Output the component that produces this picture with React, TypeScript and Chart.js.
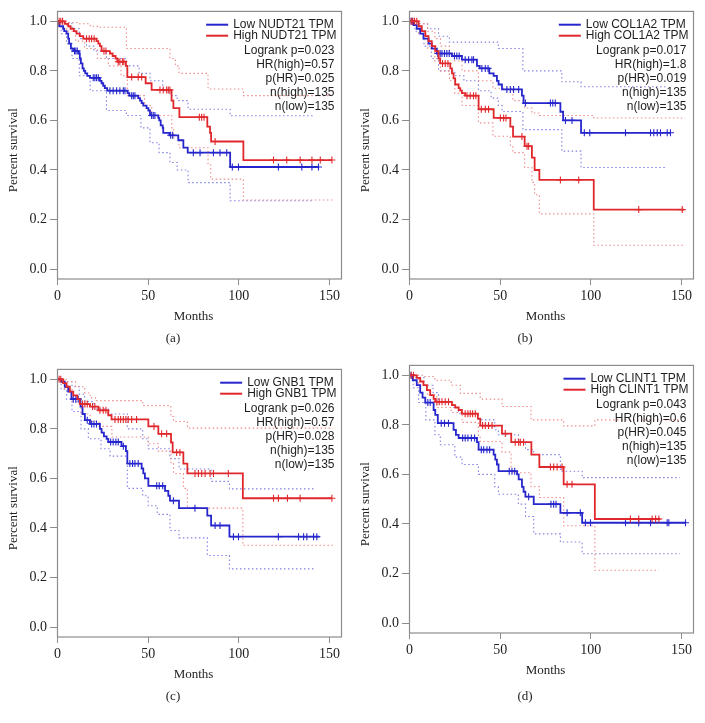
import { useEffect, useRef } from "react";
import { Chart, registerables } from "chart.js";

Chart.register(...registerables);

// ---------- shared tick labels ----------
const X_TICKS = [0, 50, 100, 150];
const Y_TICKS = [0, 0.2, 0.4, 0.6, 0.8, 1.0];

// ---------- (a) NUDT21 ----------
const aLowT = [0, 0.9, 3.1, 3.7, 5.0, 5.9, 6.4, 7.4, 8.7, 11.8, 12.3, 12.9, 13.8, 14.5, 15.3, 16.4, 17.9, 23.4, 24.3, 25.2, 26.1, 27.4, 38.7, 39.6, 44.5, 45.5, 46.4, 47.3, 49.1, 50.1, 51.0, 55.6, 56.1, 56.9, 58.0, 58.3, 61.7, 66.6, 69.4, 71.8, 95.2, 143.9];
const aLowS = [1, 0.98, 0.97, 0.96, 0.95, 0.93, 0.91, 0.89, 0.88, 0.87, 0.85, 0.83, 0.81, 0.8, 0.79, 0.78, 0.772, 0.76, 0.75, 0.74, 0.73, 0.72, 0.71, 0.7, 0.69, 0.68, 0.67, 0.66, 0.65, 0.64, 0.62, 0.61, 0.6, 0.58, 0.57, 0.55, 0.54, 0.52, 0.49, 0.47, 0.412, 0.412];
const aLowCens = [9.4, 10.1, 10.9, 19.7, 20.6, 21.5, 22.5, 28.9, 30.7, 32.6, 34.4, 36.3, 37.2, 40.9, 41.8, 42.7, 51.9, 52.8, 53.7, 62.4, 63.5, 74.9, 78.6, 86.0, 89.6, 93.3, 96.4, 99.8, 121.8, 134.7, 140.3, 143.9];
const aHighT = [0, 4.0, 5.9, 7.2, 9.0, 10.5, 12.3, 14.2, 21.5, 22.5, 23.4, 24.3, 28.9, 30.4, 32.0, 33.0, 37.7, 38.5, 48.6, 51.9, 62.9, 63.9, 67.2, 82.6, 84.1, 84.7, 102.5, 151.3];
const aHighS = [1, 0.99, 0.98, 0.97, 0.96, 0.95, 0.94, 0.93, 0.92, 0.91, 0.9, 0.88, 0.87, 0.86, 0.85, 0.837, 0.82, 0.775, 0.75, 0.723, 0.68, 0.65, 0.613, 0.575, 0.55, 0.515, 0.44, 0.44];
const aHighCens = [0.9, 1.8, 2.8, 16.0, 17.5, 18.8, 20.2, 25.6, 26.7, 33.5, 34.4, 35.9, 36.6, 40.9, 44.5, 46.4, 56.5, 58.3, 60.2, 61.1, 62.0, 78.2, 79.5, 80.8, 86.9, 119.1, 126.4, 133.8, 140.3, 144.9, 151.3];
const aLowUpper = [[0, 1], [3, 0.995], [8, 0.97], [12, 0.93], [16, 0.9], [20, 0.88], [27, 0.85], [38, 0.82], [45, 0.79], [51, 0.76], [58, 0.72], [62, 0.7], [66, 0.68], [72, 0.645], [95.2, 0.619], [141, 0.619]];
const aLowLower = [[0, 1], [2, 0.95], [5, 0.91], [8, 0.85], [12, 0.78], [18, 0.72], [27, 0.64], [38, 0.62], [46, 0.57], [51, 0.51], [56, 0.47], [62, 0.43], [66, 0.4], [72, 0.349], [95.2, 0.276], [141, 0.276]];
const aHighUpper = [[0, 1], [6, 0.995], [12, 0.99], [18, 0.98], [22, 0.976], [38, 0.89], [62, 0.85], [65, 0.82], [67, 0.79], [83, 0.727], [102.5, 0.7], [151, 0.7]];
const aHighLower = [[0, 1], [5, 0.96], [10, 0.92], [15, 0.89], [22, 0.85], [28, 0.82], [35, 0.78], [38.5, 0.7], [48, 0.66], [52, 0.62], [63, 0.57], [64, 0.53], [67, 0.49], [83, 0.42], [84.5, 0.363], [102.5, 0.279], [152, 0.279]];
const aStats = ["Logrank p=0.023", "HR(high)=0.57", "p(HR)=0.025", "n(high)=135", "n(low)=135"];

// ---------- (b) COL1A2 ----------
const bLowT = [0, 2.2, 4.0, 5.9, 7.7, 10.5, 12.3, 15.1, 23.4, 28.9, 37.2, 38.7, 44.0, 46.4, 48.2, 49.1, 51.0, 62.0, 62.9, 83.2, 84.7, 94.6, 143.9];
const bLowS = [1, 0.985, 0.97, 0.95, 0.93, 0.91, 0.89, 0.87, 0.86, 0.845, 0.82, 0.81, 0.79, 0.78, 0.76, 0.745, 0.725, 0.7, 0.67, 0.635, 0.6, 0.55, 0.55];
const bLowCens = [0.9, 1.7, 15.6, 16.9, 17.9, 19.3, 20.6, 21.9, 24.8, 26.1, 27.4, 30.7, 32.6, 34.4, 35.3, 39.9, 41.8, 43.3, 53.7, 55.6, 57.4, 60.2, 63.9, 77.7, 79.0, 80.4, 86.0, 89.6, 96.4, 99.4, 119.1, 132.9, 134.7, 136.6, 138.4, 142.1, 143.9];
const bHighT = [0, 5.0, 6.8, 8.7, 10.5, 12.3, 14.2, 16.0, 16.9, 22.5, 23.4, 24.3, 25.2, 27.1, 28.0, 28.9, 30.7, 38.1, 46.4, 55.6, 57.1, 63.5, 67.5, 69.0, 71.6, 101.6, 151.3];
const bHighS = [1, 0.98, 0.96, 0.94, 0.92, 0.9, 0.88, 0.85, 0.83, 0.81, 0.79, 0.77, 0.745, 0.73, 0.72, 0.71, 0.7, 0.645, 0.61, 0.575, 0.535, 0.496, 0.45, 0.4, 0.36, 0.24, 0.24];
const bHighCens = [0.9, 1.8, 2.8, 4.0, 18.2, 19.7, 21.2, 31.7, 33.5, 35.3, 36.6, 39.6, 41.8, 43.6, 50.1, 51.9, 53.2, 62.0, 64.8, 65.7, 83.2, 93.3, 126.4, 150.4];
const bLowUpper = [[0, 1], [5, 0.99], [10, 0.97], [16, 0.94], [22, 0.916], [49, 0.89], [62.5, 0.8], [84, 0.756], [94.6, 0.736], [142, 0.736]];
const bLowLower = [[0, 1], [3, 0.96], [8, 0.9], [12, 0.85], [16, 0.8], [25, 0.78], [30, 0.76], [38, 0.72], [45, 0.69], [49, 0.66], [51, 0.636], [62.5, 0.563], [84, 0.476], [94.6, 0.41], [142, 0.41]];
const bHighUpper = [[0, 1], [5, 0.99], [10, 0.96], [14, 0.93], [17, 0.9], [22, 0.87], [25, 0.84], [29, 0.8], [38, 0.76], [46, 0.73], [57, 0.68], [63.5, 0.65], [67.5, 0.63], [71.6, 0.62], [101.6, 0.61], [152, 0.61]];
const bHighLower = [[0, 1], [5, 0.95], [10, 0.89], [14, 0.84], [17, 0.8], [22, 0.76], [25, 0.71], [29, 0.66], [38, 0.59], [46, 0.536], [55.6, 0.5], [57, 0.47], [63.5, 0.41], [67.5, 0.35], [69, 0.3], [71.6, 0.223], [101.6, 0.096], [152, 0.096]];
const bStats = ["Logrank p=0.017", "HR(high)=1.8", "p(HR)=0.019", "n(high)=135", "n(low)=135"];

// ---------- (c) GNB1 ----------
const cLowT = [0, 2.2, 4.0, 5.9, 7.7, 12.7, 13.8, 15.1, 17.9, 23.4, 24.3, 25.6, 27.1, 28.0, 35.3, 37.7, 38.5, 46.4, 47.3, 48.2, 50.1, 59.3, 61.1, 62.0, 67.0, 82.6, 84.7, 94.8, 144.5];
const cLowS = [1, 0.99, 0.97, 0.95, 0.92, 0.89, 0.86, 0.835, 0.82, 0.8, 0.785, 0.77, 0.76, 0.747, 0.73, 0.71, 0.66, 0.64, 0.62, 0.6, 0.57, 0.55, 0.53, 0.51, 0.48, 0.45, 0.41, 0.365, 0.365];
const cLowCens = [8.7, 10.1, 11.4, 16.4, 18.8, 20.1, 21.5, 29.3, 30.7, 32.2, 33.5, 36.3, 39.9, 41.4, 42.7, 44.5, 54.7, 56.1, 58.0, 63.9, 75.8, 86.9, 89.6, 97.0, 99.8, 121.8, 132.9, 135.7, 137.5, 141.2, 143.0];
const cHighT = [0, 3.1, 5.0, 6.8, 8.7, 10.9, 12.3, 17.9, 22.5, 28.0, 29.8, 50.1, 55.6, 62.6, 63.5, 69.4, 71.6, 102.2, 151.3];
const cHighS = [1, 0.985, 0.97, 0.95, 0.935, 0.92, 0.9, 0.89, 0.875, 0.855, 0.838, 0.81, 0.78, 0.745, 0.705, 0.66, 0.62, 0.52, 0.52];
const cHighCens = [0.9, 1.8, 13.8, 15.1, 16.4, 19.3, 20.6, 23.4, 25.2, 26.7, 31.7, 33.5, 34.8, 36.3, 37.7, 39.0, 40.9, 43.6, 53.2, 57.4, 60.2, 65.7, 67.5, 75.8, 77.7, 79.5, 81.4, 84.1, 86.0, 94.2, 119.1, 121.8, 126.8, 133.8, 151.3];
const cLowUpper = [[0, 1], [4, 0.99], [8, 0.97], [12, 0.94], [15, 0.91], [20, 0.88], [28, 0.86], [38.5, 0.8], [47, 0.76], [50, 0.72], [62, 0.68], [67, 0.638], [84.7, 0.588], [94.8, 0.558], [142, 0.558]];
const cLowLower = [[0, 1], [2, 0.96], [5, 0.92], [8, 0.87], [13, 0.8], [17, 0.76], [24, 0.72], [29, 0.69], [38.5, 0.56], [47, 0.53], [50, 0.49], [55, 0.455], [62, 0.39], [67, 0.36], [82.6, 0.289], [94.8, 0.235], [142, 0.235]];
const cHighUpper = [[0, 1], [5, 0.99], [10, 0.97], [15, 0.945], [18, 0.925], [21, 0.914], [47, 0.894], [62.5, 0.85], [64, 0.83], [71.6, 0.803], [152, 0.803]];
const cHighLower = [[0, 1], [4, 0.96], [8, 0.91], [13, 0.86], [18, 0.83], [23, 0.81], [30, 0.767], [50, 0.74], [55.6, 0.71], [62.6, 0.66], [64, 0.62], [69.4, 0.56], [71.6, 0.48], [102.2, 0.33], [152, 0.33]];
const cStats = ["Logrank p=0.026", "HR(high)=0.57", "p(HR)=0.028", "n(high)=135", "n(low)=135"];

// ---------- (d) CLINT1 ----------
const dLowT = [0, 1.8, 4.0, 5.9, 7.2, 8.7, 13.3, 14.2, 15.6, 24.3, 25.6, 27.1, 37.2, 38.1, 46.4, 47.3, 48.2, 49.1, 59.3, 60.2, 62.0, 62.9, 63.9, 68.5, 83.2, 95.2, 152.2];
const dLowS = [1, 0.98, 0.96, 0.93, 0.91, 0.89, 0.86, 0.84, 0.807, 0.78, 0.76, 0.747, 0.73, 0.7, 0.68, 0.66, 0.64, 0.613, 0.6, 0.58, 0.55, 0.53, 0.51, 0.48, 0.445, 0.405, 0.405];
const dLowCens = [0.9, 10.1, 11.4, 17.5, 19.3, 21.5, 29.3, 30.7, 32.2, 34.1, 35.9, 39.6, 40.9, 42.7, 44.2, 55.0, 56.5, 58.0, 65.7, 78.0, 79.5, 80.8, 86.9, 94.2, 97.0, 99.8, 119.1, 126.4, 132.9, 142.1, 143.0, 152.2];
const dHighT = [0, 4.0, 5.9, 7.7, 9.6, 11.4, 13.3, 14.2, 23.4, 25.2, 27.1, 28.9, 37.7, 39.0, 51.0, 56.1, 67.2, 71.6, 85.0, 102.2, 138.4];
const dHighS = [1, 0.99, 0.975, 0.96, 0.94, 0.92, 0.905, 0.893, 0.88, 0.87, 0.86, 0.845, 0.825, 0.797, 0.765, 0.73, 0.68, 0.63, 0.56, 0.42, 0.42];
const dHighCens = [0.9, 2.2, 15.1, 16.4, 17.9, 19.7, 21.5, 30.7, 32.2, 33.5, 34.8, 36.3, 40.3, 41.8, 43.6, 45.5, 52.8, 58.3, 60.2, 61.1, 62.9, 77.7, 79.5, 81.4, 84.1, 86.9, 89.6, 121.8, 126.4, 133.8, 135.7, 137.5];
const dLowUpper = [[0, 1], [3, 0.99], [8, 0.96], [13, 0.93], [16, 0.89], [24, 0.87], [27, 0.845], [38, 0.82], [47, 0.78], [49, 0.76], [60, 0.73], [64, 0.7], [68.5, 0.68], [83.2, 0.613], [95.2, 0.587], [149, 0.587]];
const dLowLower = [[0, 1], [2, 0.95], [5, 0.89], [9, 0.82], [14, 0.76], [17, 0.72], [25, 0.67], [29, 0.64], [38, 0.6], [47, 0.55], [49, 0.52], [60, 0.48], [64, 0.43], [68.5, 0.36], [83.2, 0.327], [95.2, 0.28], [149, 0.28]];
const dHighUpper = [[0, 1], [8, 0.995], [14, 0.98], [23, 0.96], [28, 0.927], [39, 0.904], [51, 0.874], [67, 0.82], [85, 0.796], [102.2, 0.82], [149, 0.82]];
const dHighLower = [[0, 1], [5, 0.96], [10, 0.92], [15, 0.87], [23, 0.85], [29, 0.81], [38, 0.75], [39, 0.733], [51, 0.69], [56, 0.607], [67, 0.55], [71.6, 0.507], [85, 0.393], [102.2, 0.213], [137.5, 0.213]];
const dStats = ["Logrank p=0.043", "HR(high)=0.6", "p(HR)=0.045", "n(high)=135", "n(low)=135"];

// ---------- styling ----------
const LOW_COLOR = "#2626cc";
const HIGH_COLOR = "#e0282c";
const LOW_CI = "#8080e4";
const HIGH_CI = "#f08c8c";
const FRAME = "#8c8c8c";
const TEXT = "#1e1e1e";
const SERIF = '"Liberation Serif", "Times New Roman", serif';
const SANS = '"Liberation Sans", Arial, sans-serif';

type Curve = { t: number[]; s: number[]; c: number[]; up: number[][]; lo: number[][] };
type Panel = {
  key: string; gene: string; caption: string; stats: string[];
  left: number; top: number; captionY: number;
  low: Curve; high: Curve;
};

const PANELS: Panel[] = [
  { key: "a", gene: "NUDT21", caption: "(a)", stats: aStats, left: 0, top: 0, captionY: 339,
    low: { t: aLowT, s: aLowS, c: aLowCens, up: aLowUpper, lo: aLowLower },
    high: { t: aHighT, s: aHighS, c: aHighCens, up: aHighUpper, lo: aHighLower } },
  { key: "b", gene: "COL1A2", caption: "(b)", stats: bStats, left: 352, top: 0, captionY: 339,
    low: { t: bLowT, s: bLowS, c: bLowCens, up: bLowUpper, lo: bLowLower },
    high: { t: bHighT, s: bHighS, c: bHighCens, up: bHighUpper, lo: bHighLower } },
  { key: "c", gene: "GNB1", caption: "(c)", stats: cStats, left: 0, top: 358, captionY: 339,
    low: { t: cLowT, s: cLowS, c: cLowCens, up: cLowUpper, lo: cLowLower },
    high: { t: cHighT, s: cHighS, c: cHighCens, up: cHighUpper, lo: cHighLower } },
  { key: "d", gene: "CLINT1", caption: "(d)", stats: dStats, left: 352, top: 354, captionY: 343,
    low: { t: dLowT, s: dLowS, c: dLowCens, up: dLowUpper, lo: dLowLower },
    high: { t: dHighT, s: dHighS, c: dHighCens, up: dHighUpper, lo: dHighLower } },
];

const CW = 352;
const CH = 350;

function survAt(t: number[], s: number[], x: number) {
  let v = s[0];
  for (let i = 0; i < t.length; i++) if (t[i] <= x) v = s[i];
  return v;
}

function kmDataset(c: Curve, color: string) {
  return {
    data: c.t.map((t, i) => ({ x: t, y: c.s[i] })),
    borderColor: color, borderWidth: 1.8, pointRadius: 0, stepped: "before" as const, fill: false,
  };
}
function censDataset(c: Curve, color: string) {
  return {
    data: c.c.map((t) => ({ x: t, y: survAt(c.t, c.s, t) })),
    showLine: false, borderColor: color, backgroundColor: color, pointStyle: "cross" as const,
    pointRadius: 3.5, pointBorderWidth: 1.1, borderWidth: 1.1,
  };
}
function ciDataset(pts: number[][], color: string) {
  return {
    data: pts.map((p) => ({ x: p[0], y: p[1] })),
    borderColor: color, borderWidth: 1.1, borderDash: [1.5, 2.5], pointRadius: 0,
    stepped: "before" as const, fill: false,
  };
}

function decorPlugin(p: Panel) {
  return {
    id: "decor_" + p.key,
    afterDraw(chart: any) {
      const { ctx } = chart;
      const { left, right, top, bottom } = chart.chartArea;
      ctx.save();
      ctx.strokeStyle = FRAME;
      ctx.lineWidth = 1.2;
      ctx.strokeRect(left, top, right - left, bottom - top);

      ctx.font = "12px " + SANS;
      ctx.fillStyle = TEXT;
      ctx.textBaseline = "middle";
      const labels = [`Low ${p.gene} TPM`, `High ${p.gene} TPM`];
      const w = Math.max(...labels.map((l) => ctx.measureText(l).width));
      const tx = right - 5 - w;
      [LOW_COLOR, HIGH_COLOR].forEach((col, i) => {
        const y = top + 13.3 + i * 11;
        ctx.strokeStyle = col;
        ctx.lineWidth = 2;
        ctx.beginPath();
        ctx.moveTo(tx - 27, y);
        ctx.lineTo(tx - 5, y);
        ctx.stroke();
        ctx.textAlign = "left";
        ctx.fillText(labels[i], tx, y);
      });
      ctx.textAlign = "right";
      p.stats.forEach((s, i) => ctx.fillText(s, right - 7, top + 39.3 + i * 14));

      ctx.font = "13px " + SERIF;
      ctx.textAlign = "center";
      const xs = chart.scales.x;
      ctx.fillText("Months", xs.getPixelForValue(75), bottom + 38);
      ctx.fillText(p.caption, 173, p.captionY);
      ctx.save();
      ctx.translate(14, (top + bottom) / 2 + 5);
      ctx.rotate(-Math.PI / 2);
      ctx.fillText("Percent survival", 0, 0);
      ctx.restore();
      ctx.restore();
    },
  };
}

function KMPanel({ p }: { p: Panel }) {
  const ref = useRef<HTMLCanvasElement | null>(null);
  useEffect(() => {
    if (!ref.current) return;
    const tickFont = { family: SERIF, size: 14 };
    const chart = new Chart(ref.current, {
      type: "line",
      data: {
        datasets: [
          censDataset(p.high, HIGH_COLOR),
          kmDataset(p.high, HIGH_COLOR),
          censDataset(p.low, LOW_COLOR),
          kmDataset(p.low, LOW_COLOR),
          ciDataset(p.high.up, HIGH_CI),
          ciDataset(p.high.lo, HIGH_CI),
          ciDataset(p.low.up, LOW_CI),
          ciDataset(p.low.lo, LOW_CI),
        ] as any,
      },
      options: {
        animation: false,
        responsive: false,
        events: [],
        layout: { padding: { left: 0, right: 10.5, top: 9, bottom: 0 } },
        plugins: { legend: { display: false }, tooltip: { enabled: false }, title: { display: false } },
        scales: {
          x: {
            type: "linear", min: 0, max: 156.6,
            afterBuildTicks: (s: any) => { s.ticks = X_TICKS.map((v) => ({ value: v })); },
            afterFit: (s: any) => { s.height = CH - 9 - 270; },
            grid: { drawOnChartArea: false, drawTicks: true, tickLength: 6, color: FRAME, lineWidth: 1 },
            border: { display: false },
            ticks: { font: tickFont, color: TEXT, padding: 3, maxRotation: 0, autoSkip: false, callback: (v: any) => String(v) },
          },
          y: {
            type: "linear", min: -0.04, max: 1.04,
            afterBuildTicks: (s: any) => { s.ticks = Y_TICKS.map((v) => ({ value: v })); },
            afterFit: (s: any) => { s.width = 57.5; },
            grid: { drawOnChartArea: false, drawTicks: true, tickLength: 7.5, color: FRAME, lineWidth: 1 },
            border: { display: false },
            ticks: { font: tickFont, color: TEXT, padding: 3, autoSkip: false, callback: (v: any) => Number(v).toFixed(1) },
          },
        },
      } as any,
      plugins: [decorPlugin(p)],
    });
    return () => chart.destroy();
  }, [p]);
  return (
    <canvas
      ref={ref}
      width={CW}
      height={CH}
      style={{ position: "absolute", left: p.left, top: p.top, width: CW, height: CH }}
    />
  );
}

export default function App() {
  return (
    <div style={{ position: "absolute", left: 0, top: 0, width: 705, height: 723, background: "#fff", overflow: "hidden" }}>
      {PANELS.map((p) => (
        <KMPanel key={p.key} p={p} />
      ))}
    </div>
  );
}
